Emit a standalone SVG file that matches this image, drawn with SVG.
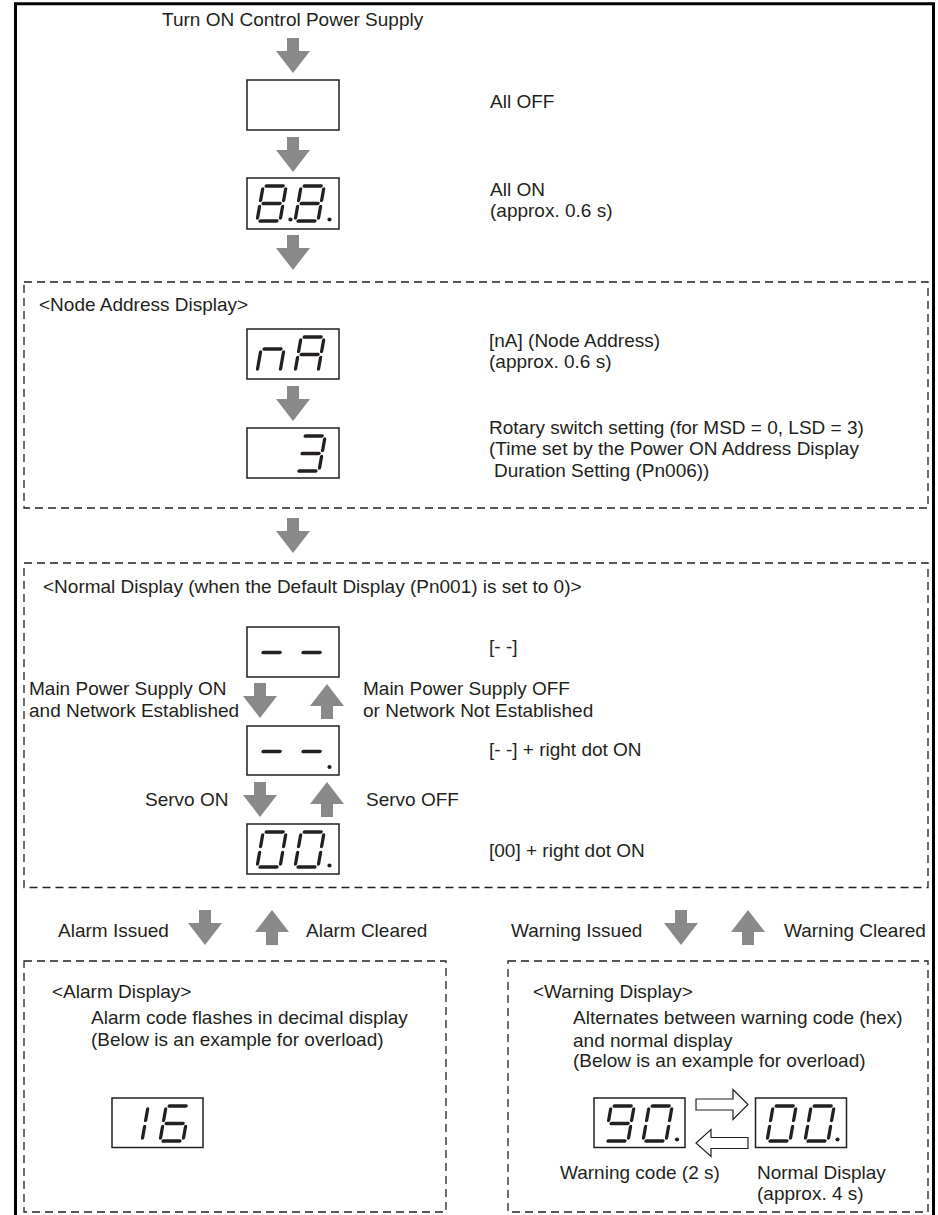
<svg xmlns="http://www.w3.org/2000/svg" xmlns:xlink="http://www.w3.org/1999/xlink" width="938" height="1215" viewBox="0 0 938 1215">
<style>
text{font-family:"Liberation Sans",Arial,Helvetica,sans-serif;font-size:19px;fill:#231f20}
.frame{fill:none;stroke:#000;stroke-width:3}
.dash{fill:none;stroke:#231f20;stroke-width:1.3;stroke-dasharray:8 5}
.disp{fill:#fff;stroke:#231f20;stroke-width:1.5}
.seg{fill:none;stroke:#231f20;stroke-width:3.3;stroke-linecap:round}
.dot{fill:#231f20}
.ga{fill:#898989}
.ha{fill:#fff;stroke:#231f20;stroke-width:1.2;stroke-linejoin:miter}
</style>
<defs>
<path id="dn" class="ga" d="M-6,0H6V13H17L0,35L-17,13H-6Z"/>
<path id="up" class="ga" d="M-6,35H6V22H17L0,0L-17,22H-6Z"/>
<path id="g8" class="seg" transform="skewX(-10)" d="M3,-35H20M23,-32V-20.5M23,-14.5V-3M3,0H20M0,-14.5V-3M0,-32V-20.5M3,-17.5H20"/>
<path id="g0" class="seg" transform="skewX(-10)" d="M3,-35H20M23,-32V-20.5M23,-14.5V-3M3,0H20M0,-14.5V-3M0,-32V-20.5"/>
<path id="g3" class="seg" transform="skewX(-10)" d="M3,-35H20M23,-32V-20.5M23,-14.5V-3M3,0H20M3,-17.5H20"/>
<path id="gA" class="seg" transform="skewX(-10)" d="M3,-35H20M23,-32V-20.5M23,-14.5V-3M0,-14.5V-3M0,-32V-20.5M3,-17.5H20"/>
<path id="g6" class="seg" transform="skewX(-10)" d="M3,-35H20M23,-14.5V-3M3,0H20M0,-14.5V-3M0,-32V-20.5M3,-17.5H20"/>
<path id="g9" class="seg" transform="skewX(-10)" d="M3,-35H20M23,-32V-20.5M23,-14.5V-3M3,0H20M0,-32V-20.5M3,-17.5H20"/>
<path id="g1" class="seg" transform="skewX(-10)" d="M23,-32V-20.5M23,-14.5V-3"/>
<path id="gm" class="seg" transform="skewX(-10)" d="M3,-17.5H20"/>
<path id="gn" class="seg" transform="skewX(-10)" d="M3,-23H20M23,-20V-3M0,-20V-3"/>
</defs>

<path class="frame" d="M15.5,1215V3.8H933.5V1215"/>

<g id="sections">
<rect class="dash" x="24" y="282" width="904" height="226"/>
<rect class="dash" x="24" y="563" width="904" height="324.5"/>
<rect class="dash" x="24" y="961" width="422" height="251"/>
<rect class="dash" x="508" y="961" width="420" height="251"/>
</g>

<g id="start"><text x="162" y="26">Turn ON Control Power Supply</text></g>

<g id="all-off">
<rect class="disp" x="247" y="80" width="92" height="50"/>
<text x="490" y="108">All OFF</text>
</g>

<g id="all-on">
<rect class="disp" x="247" y="178" width="92" height="51"/>
<use xlink:href="#g8" x="257" y="221"/>
<circle class="dot" cx="290.5" cy="219.5" r="2.1"/>
<use xlink:href="#g8" x="295" y="221"/>
<circle class="dot" cx="329.5" cy="219.5" r="2.1"/>
<text x="490" y="196">All ON</text>
<text x="490" y="217">(approx. 0.6 s)</text>
</g>

<g id="node-address">
<text x="39" y="311">&lt;Node Address Display&gt;</text>
</g>

<g id="na">
<rect class="disp" x="247" y="329" width="92" height="50"/>
<use xlink:href="#gn" x="257" y="372"/>
<use xlink:href="#gA" x="295" y="372"/>
<text x="489" y="347">[nA] (Node Address)</text>
<text x="489" y="368">(approx. 0.6 s)</text>
</g>

<g id="rotary">
<rect class="disp" x="247" y="428" width="92" height="50"/>
<use xlink:href="#g3" x="296" y="471"/>
<text x="489" y="434">Rotary switch setting (for MSD = 0, LSD = 3)</text>
<text x="489" y="455">(Time set by the Power ON Address Display</text>
<text x="494" y="477">Duration Setting (Pn006))</text>
</g>

<g id="normal-display">
<text x="43" y="593">&lt;Normal Display (when the Default Display (Pn001) is set to 0)&gt;</text>
</g>

<g id="dashes">
<rect class="disp" x="247" y="627" width="92" height="50"/>
<use xlink:href="#gm" x="257" y="670"/>
<use xlink:href="#gm" x="297" y="670"/>
<text x="489" y="653">[- -]</text>
</g>

<g id="dashes-dot">
<rect class="disp" x="247" y="726" width="92" height="49"/>
<use xlink:href="#gm" x="257" y="769"/>
<use xlink:href="#gm" x="297" y="769"/>
<circle class="dot" cx="329.5" cy="767" r="2.1"/>
<text x="489" y="756">[- -] + right dot ON</text>
</g>

<g id="zero-zero">
<rect class="disp" x="247" y="824" width="92" height="50"/>
<use xlink:href="#g0" x="257" y="867"/>
<use xlink:href="#g0" x="295" y="867"/>
<circle class="dot" cx="329.5" cy="865.5" r="2.1"/>
<text x="489" y="857">[00] + right dot ON</text>
</g>

<g id="alarm-display">
<text x="52" y="998">&lt;Alarm Display&gt;</text>
<text x="91" y="1024">Alarm code flashes in decimal display</text>
<text x="91" y="1046">(Below is an example for overload)</text>
<rect class="disp" x="112" y="1098" width="91" height="49.5"/>
<use xlink:href="#g1" x="119" y="1141"/>
<use xlink:href="#g6" x="160" y="1141"/>
</g>

<g id="warning-display">
<text x="533" y="998">&lt;Warning Display&gt;</text>
<text x="573" y="1024">Alternates between warning code (hex)</text>
<text x="573" y="1046.5">and normal display</text>
<text x="573" y="1067">(Below is an example for overload)</text>
</g>

<g id="warning-code">
<rect class="disp" x="594" y="1098" width="91" height="49.5"/>
<use xlink:href="#g9" x="605" y="1141"/>
<use xlink:href="#g0" x="643" y="1141"/>
<circle class="dot" cx="677" cy="1139.5" r="2.1"/>
<text x="560" y="1179">Warning code (2 s)</text>
</g>

<g id="warning-normal">
<rect class="disp" x="755.5" y="1098" width="91" height="49.5"/>
<use xlink:href="#g0" x="767" y="1141"/>
<use xlink:href="#g0" x="805" y="1141"/>
<circle class="dot" cx="837.5" cy="1139.5" r="2.1"/>
<text x="757" y="1179">Normal Display</text>
<text x="757" y="1200">(approx. 4 s)</text>
</g>

<g id="connectors">
<use xlink:href="#dn" x="293" y="38"/>
<use xlink:href="#dn" x="293" y="137"/>
<use xlink:href="#dn" x="293" y="235"/>
<use xlink:href="#dn" x="293" y="386"/>
<use xlink:href="#dn" x="293" y="518"/>
<use xlink:href="#dn" x="260" y="683"/>
<use xlink:href="#up" x="327" y="684"/>
<use xlink:href="#dn" x="260" y="782"/>
<use xlink:href="#up" x="327" y="782"/>
<use xlink:href="#dn" x="205" y="910"/>
<use xlink:href="#up" x="272" y="910"/>
<use xlink:href="#dn" x="681" y="910"/>
<use xlink:href="#up" x="748" y="910"/>
<path class="ha" d="M696,1099H733V1089.5L748,1104.5L733,1119.5V1110H696Z"/>
<path class="ha" d="M748,1137.5H711V1129.5L696,1143L711,1156.5V1148.5H748Z"/>
<text x="29" y="695">Main Power Supply ON</text>
<text x="29" y="717">and Network Established</text>
<text x="363" y="695">Main Power Supply OFF</text>
<text x="363" y="717">or Network Not Established</text>
<text x="145" y="806">Servo ON</text>
<text x="366" y="806">Servo OFF</text>
<text x="58" y="937">Alarm Issued</text>
<text x="306" y="937">Alarm Cleared</text>
<text x="511" y="937">Warning Issued</text>
<text x="784" y="937">Warning Cleared</text>
</g>
</svg>
